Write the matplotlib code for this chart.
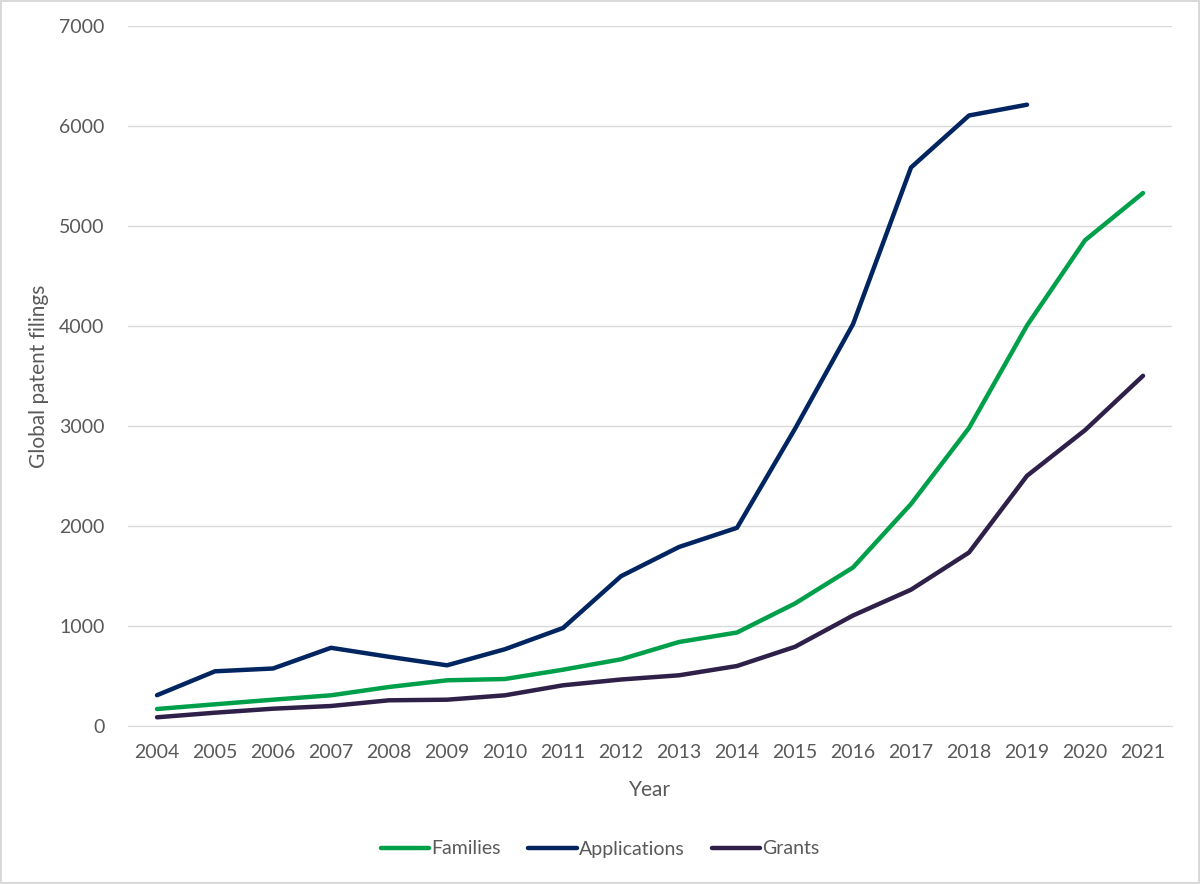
import matplotlib
matplotlib.use('Agg')
import matplotlib.pyplot as plt
import numpy as np

# данные
years = [str(y) for y in range(2004, 2022)]
families = [170, 217, 263, 307, 390, 457, 470, 563, 667, 840, 935,
            1225, 1585, 2220, 2980, 4005, 4857, 5330]
applications = [308, 547, 575, 782, 692, 607, 768, 980, 1498, 1790, 1982,
                2972, 4018, 5585, 6105, 6213]
grants = [87, 133, 173, 200, 257, 263, 307, 407, 465, 507, 600,
          792, 1105, 1363, 1735, 2502, 2958, 3502]

series_names = ['Families', 'Applications', 'Grants']
series_colors = ['#00A04B', '#002561', '#2E2048']

plt.rcParams['font.family'] = ['Lato', 'DejaVu Sans']
text_color = '#595959'

fig = plt.figure(figsize=(12, 8.84), dpi=100)
fig.patch.set_edgecolor('#D9D9D9')
fig.patch.set_linewidth(1.5)
ax = fig.add_axes([128 / 1200, 1 - 726 / 884, 1044 / 1200, 700 / 884])

x = np.arange(len(years))
for name, vals, col in zip(series_names, [families, applications, grants], series_colors):
    ax.plot(x[:len(vals)], vals, color=col, lw=3.2, label=name,
            solid_capstyle='round', solid_joinstyle='round')

ax.set_xlim(-0.5, len(years) - 0.5)
ax.set_ylim(0, 7000)
ax.set_yticks(range(0, 7001, 1000))
ax.set_xticks(x)
ax.set_xticklabels(years)
ax.grid(axis='y', color='#D9D9D9', lw=1)
ax.set_axisbelow(True)
for s in ['top', 'right', 'left']:
    ax.spines[s].set_visible(False)
ax.spines['bottom'].set_color('#D9D9D9')
ax.tick_params(length=0, colors=text_color, labelsize=14)
ax.tick_params(axis='y', pad=17)
ax.tick_params(axis='x', pad=13)

ax.set_xlabel('Year', fontsize=15, color=text_color, labelpad=14)
ax.set_ylabel('Global patent filings', fontsize=15, color=text_color, labelpad=7)

leg = fig.legend(loc='center', bbox_to_anchor=(0.5, 1 - 849 / 884), ncol=3,
                 frameon=False, fontsize=14, handlelength=2.5, handletextpad=0.1,
                 columnspacing=1.4)
for t in leg.get_texts():
    t.set_color(text_color)

fig.savefig('out.png', dpi=100, edgecolor=fig.get_edgecolor())
